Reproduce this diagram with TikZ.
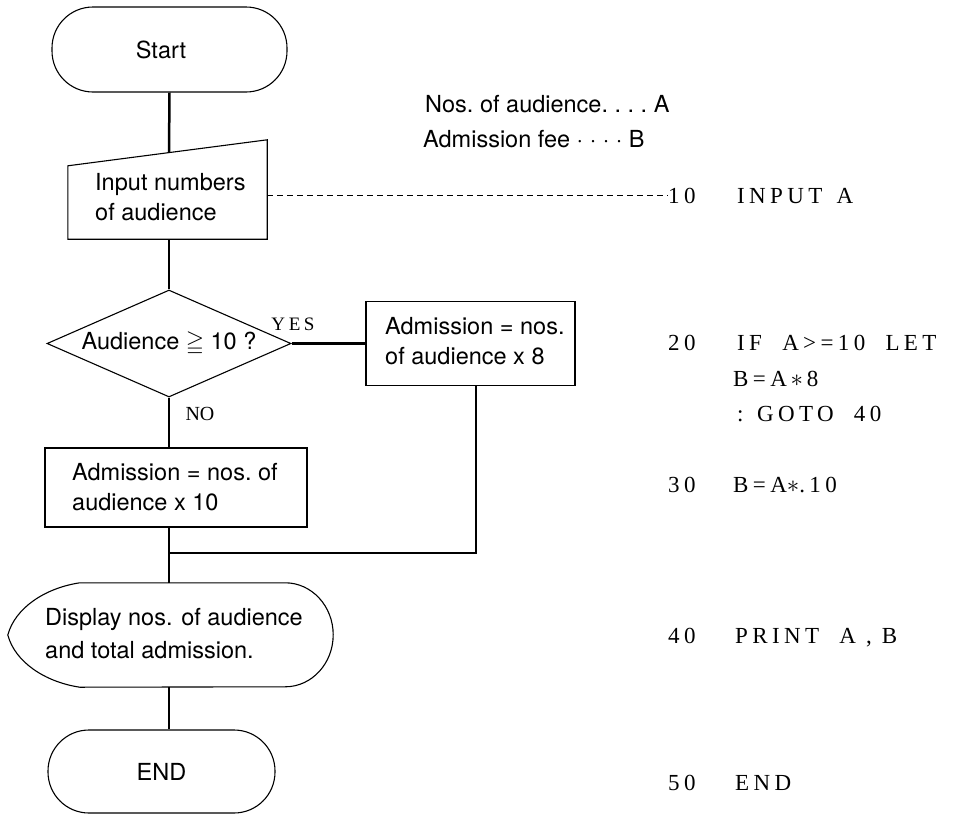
\documentclass[tikz,border=0pt]{standalone}
\usepackage{amssymb}
\usepackage{fontspec}
\setmainfont{Liberation Serif}
\newfontfamily\sansf{TeX Gyre Heros}
\newfontfamily\codef[LetterSpace=19]{Liberation Serif}
\usetikzlibrary{shapes.geometric}
\begin{document}
\begin{tikzpicture}[x=1pt,y=-1pt,
  outline/.style={draw=black, line width=1.1pt},
  conn/.style={line width=2.5pt},
  sanstxt/.style={font=\sansf\fontsize{23.5}{30}\selectfont\frenchspacing, inner sep=0pt, align=left},
  codetxt/.style={font=\codef\fontsize{23}{26}\selectfont, inner sep=0pt, anchor=base west},
  term/.style={outline, rounded corners=41pt, inner sep=0pt, sanstxt, align=center},
  procbox/.style={outline, inner sep=0pt},
]
\useasboundingbox (0,0) rectangle (969,814);

% Start
\node[term, minimum width=235pt, minimum height=85pt] (start) at (169.5,49.5) {};
\node[sanstxt] (starttxt) at (161,50) {Start};

% Input (manual input shape)
\node[minimum width=199pt, minimum height=99pt, inner sep=0pt] (input) at (167.5,189.5) {};
\draw[outline] (input.south west) -- (input.south east) -- (input.north east)
   -- ([yshift=-26pt]input.north west) -- cycle;
\path ([yshift=-26pt]input.north west) -- coordinate[pos=0.5075] (intop) (input.north east);
\node[sanstxt, anchor=base west] (inputtxt) at (95,220) {Input numbers\\of audience};
\draw[conn] (start.south) -- (intop);

% Legend
\node[sanstxt, anchor=base west] (leg1) at (425,112) {Nos. of audience. . . . A};
\node[sanstxt, anchor=base west] (leg2) at (423,147) {Admission fee · · · · B};

% Decision
\node[outline, diamond, aspect=2.28, minimum width=244pt, minimum height=107pt,
      sanstxt, align=center] (dia) at (169,343.5) {Audience $\geqq$ 10 ?};
\draw[conn] (dia.north |- input.south) -- (dia.north);
\node[font=\codef\fontsize{19}{21}\selectfont, inner sep=0pt] (yes) at (293,324) {YES};
\node[font=\rmfamily\fontsize{20}{22}\selectfont, inner sep=0pt] (no) at (200,414) {NO};

% YES process
\node[procbox, minimum width=209pt, minimum height=84pt] (yesbox) at (470.5,343.5) {};
\node[sanstxt, anchor=base west] (yestxt) at (385,364) {Admission = nos.\\of audience x 8};
\draw[conn] (dia.east) -- (yesbox.west);

% NO process
\node[procbox, minimum width=262pt, minimum height=79pt] (nobox) at (176,487.5) {};
\node[sanstxt, anchor=base west] (notxt) at (72,510) {Admission = nos. of\\audience x 10};
\draw[conn] (dia.south) -- (dia.south |- nobox.north);

% Display
\node[minimum width=325pt, minimum height=104pt, inner sep=0pt] (display) at (170.5,635) {};
\draw[outline] ([xshift=72pt]display.north west) -- ([xshift=-48pt]display.north east)
   arc[start angle=90, end angle=-90, x radius=48pt, y radius=52pt]
   -- ([xshift=72pt]display.south west)
   .. controls (45,682) and (15,662) .. (display.west)
   .. controls (15,608) and (45,588) .. ([xshift=72pt]display.north west) -- cycle;
\node[sanstxt, anchor=base west, font=\sansf\fontsize{23.5}{33}\selectfont] (disptxt) at (45,658)
   {Display nos. of audience\\and total admission.};

% Junction
\coordinate (j1) at (169,553);
\coordinate (j2) at (476,553);
\draw[conn] (dia.south |- nobox.south) -- (j1) -- (j1 |- display.north);
\draw[conn] (j2 |- yesbox.south) -- (j2) -- (j1);

% END
\node[term, minimum width=227pt, minimum height=83pt] (endn) at (161.5,771.5) {END};
\draw[conn] (j1 |- display.south) -- (j1 |- endn.north);

% Code
\node[codetxt] (c10) at (668,203) {10};
\node[codetxt] (l10) at (737,203) {INPUT \hspace{4pt}A};
\draw[line width=1pt, dash pattern=on 6pt off 4pt] (input.east |- c10.west) -- (c10.west);
\node[codetxt] (c20) at (668,350) {20};
\node[codetxt] (l20) at (737,350) {IF~~A>=10~~LET};
\node[codetxt] (l20b) at (733,386) {B=A\,$\ast$\,8};
\node[codetxt] (l20c) at (737,421) {: GOTO~~40};
\node[codetxt] (c30) at (668,492) {30};
\node[codetxt] (l30) at (733,492) {B=A$\ast$.10};
\node[codetxt] (c40) at (668,643) {40};
\node[codetxt] (l40) at (735,643) {PRINT~~A , B};
\node[codetxt] (c50) at (668,790) {50};
\node[codetxt] (l50) at (735,790) {END};
\end{tikzpicture}
\end{document}
